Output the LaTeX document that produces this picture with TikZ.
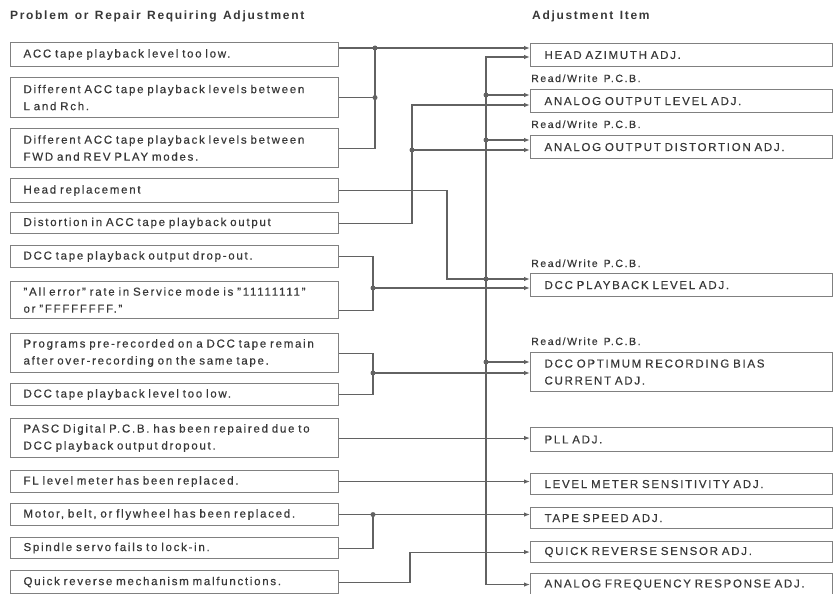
\documentclass[tikz,border=0pt]{standalone}
\usepackage{fontspec}
\setmainfont{Liberation Sans}[LetterSpace=15, FakeBold=0.5]
\newfontfamily\hdrfont{Liberation Sans}[LetterSpace=14]
\newcommand\myBodyFont{\fontsize{11.5}{17}\selectfont\spaceskip 6.5pt plus 1pt minus 0.5pt\relax}
\newcommand\myPcbFont{\fontsize{10.5}{12}\selectfont\spaceskip 6pt\relax}
\newcommand\myHdrFont{\hdrfont\bfseries\fontsize{12}{14}\selectfont\spaceskip 6.5pt\relax}
\usetikzlibrary{arrows.meta,calc}
\definecolor{ln}{HTML}{626262}
\definecolor{bx}{HTML}{808080}
\definecolor{tx}{HTML}{383838}
\begin{document}
\begin{tikzpicture}[x=1pt,y=-1pt,
  box/.style={draw=bx, line width=1.1pt, text=tx, align=left, inner ysep=0pt, anchor=north west, font=\myBodyFont},
  lbox/.style={box, text width=302pt, inner xsep=13pt},
  rbox/.style={box, text width=274pt, inner xsep=14pt},
  conn/.style={draw=ln, line width=1.1pt},
  tip/.tip={Latex[length=6pt,width=4.5pt]},
  arr/.style={conn, -tip},
  dot/.style={circle, fill=ln, inner sep=0pt, minimum size=5pt},
  pcb/.style={text=tx, anchor=base west, inner sep=0pt, font=\myPcbFont},
  hdr/.style={text=tx, anchor=base west, inner sep=0pt, font=\myHdrFont}]
\useasboundingbox (0,0) rectangle (833,594);

% headers
\node[hdr] (h1) at (10,20) {Problem or Repair Requiring Adjustment};
\node[hdr] (h2) at (532,20) {Adjustment Item};

% left boxes
\node[lbox, minimum height=24pt] (a1) at (10,42) {ACC tape playback level too low.};
\node[lbox, minimum height=40pt] (a2) at (10,77) {Different ACC tape playback levels between\\L and Rch.};
\node[lbox, minimum height=39pt] (a3) at (10,128) {Different ACC tape playback levels between\\FWD and REV PLAY modes.};
\node[lbox, minimum height=24pt] (a4) at (10,178) {Head replacement};
\node[lbox, minimum height=21pt] (a5) at (10,212) {Distortion in ACC tape playback output};
\node[lbox, minimum height=22pt] (a6) at (10,245) {DCC tape playback output drop-out.};
\node[lbox, minimum height=37pt] (a7) at (10,281) {"All error" rate in Service mode is "11111111"\\or "FFFFFFFF."};
\node[lbox, minimum height=39pt] (a8) at (10,333) {Programs pre-recorded on a DCC tape remain\\after over-recording on the same tape.};
\node[lbox, minimum height=22pt] (a9) at (10,383) {DCC tape playback level too low.};
\node[lbox, minimum height=39pt] (a10) at (10,418) {PASC Digital P.C.B. has been repaired due to\\DCC playback output dropout.};
\node[lbox, minimum height=22pt] (a11) at (10,470) {FL level meter has been replaced.};
\node[lbox, minimum height=22pt] (a12) at (10,503) {Motor, belt, or flywheel has been replaced.};
\node[lbox, minimum height=21pt] (a13) at (10,537) {Spindle servo fails to lock-in.};
\node[lbox, minimum height=23pt] (a14) at (10,570) {Quick reverse mechanism malfunctions.};

% right boxes
\node[rbox, minimum height=23pt] (haz) at (530,43) {HEAD AZIMUTH ADJ.};
\node[rbox, minimum height=23pt] (aol) at (530,89) {ANALOG OUTPUT LEVEL ADJ.};
\node[rbox, minimum height=23pt] (aod) at (530,135) {ANALOG OUTPUT DISTORTION ADJ.};
\node[rbox, minimum height=23pt] (dpb) at (530,273) {DCC PLAYBACK LEVEL ADJ.};
\node[rbox, minimum height=39pt] (dopt) at (530,352) {DCC OPTIMUM RECORDING BIAS\\CURRENT ADJ.};
\node[rbox, minimum height=24pt] (pll) at (530,427) {PLL ADJ.};
\node[rbox, minimum height=21pt] (lms) at (530,473) {LEVEL METER SENSITIVITY ADJ.};
\node[rbox, minimum height=21pt] (ts) at (530,507) {TAPE SPEED ADJ.};
\node[rbox, minimum height=21pt] (qrs) at (530,541) {QUICK REVERSE SENSOR ADJ.};
\node[rbox, minimum height=22pt] (afr) at (530,573) {ANALOG FREQUENCY RESPONSE ADJ.};

% Read/Write labels
\node[pcb] (p1) at ($(aol.north west)+(1,-7)$) {Read/Write P.C.B.};
\node[pcb] (p2) at ($(aod.north west)+(1,-7)$) {Read/Write P.C.B.};
\node[pcb] (p3) at ($(dpb.north west)+(1,-6)$) {Read/Write P.C.B.};
\node[pcb] (p4) at ($(dopt.north west)+(1,-7)$) {Read/Write P.C.B.};

% arrow target points
\coordinate (haz1) at ($(haz.north west)+(0,5)$);
\coordinate (haz2) at ($(haz.north west)+(0,14)$);
\coordinate (aol1) at ($(aol.north west)+(0,6)$);
\coordinate (aol2) at ($(aol.north west)+(0,16)$);
\coordinate (aod1) at ($(aod.north west)+(0,5)$);
\coordinate (aod2) at ($(aod.north west)+(0,15)$);
\coordinate (dpb1) at ($(dpb.north west)+(0,6)$);
\coordinate (dpb2) at ($(dpb.north west)+(0,15)$);
\coordinate (dopt1) at ($(dopt.north west)+(0,10)$);
\coordinate (dopt2) at ($(dopt.north west)+(0,21)$);
\coordinate (a7p) at ($(a7.south east)+(0,-9)$);

% bus columns
\coordinate (xA) at (375,0);
\coordinate (xB) at (412,0);
\coordinate (xC) at (447,0);
\coordinate (xD) at (486,0);
\coordinate (xE) at (373,0);
\coordinate (xF) at (410,0);

% ACC group
\draw[arr] (a1.east |- haz1) -- (haz1);
\draw[conn] (a2.east) -- (a2.east -| xA);
\draw[conn] (a3.east) -| (xA |- haz1);
\node[dot] (d1) at (xA |- haz1) {};
\node[dot] (d2) at (a2.east -| xA) {};

% head replacement and main bus
\draw[arr] (a4.east) -| (xC |- dpb1) -- (dpb1);
\draw[conn, tip-tip] (haz2) -| (xD |- afr.west) -- (afr.west);
\draw[arr] (xD |- aol1) -- (aol1);
\draw[arr] (xD |- aod1) -- (aod1);
\draw[arr] (xD |- dopt1) -- (dopt1);
\node[dot] (d3) at (xD |- aol1) {};
\node[dot] (d4) at (xD |- aod1) {};
\node[dot] (d5) at (xD |- dpb1) {};
\node[dot] (d6) at (xD |- dopt1) {};

% distortion
\draw[arr] (a5.east) -| (xB |- aol2) -- (aol2);
\draw[arr] (xB |- aod2) -- (aod2);
\node[dot] (d7) at (xB |- aod2) {};

% DCC drop-out / all error
\draw[arr] (a6.east) -| (xE |- dpb2) -- (dpb2);
\draw[conn] (a7p) -| (xE |- dpb2);
\node[dot] (d8) at (xE |- dpb2) {};

% programs / DCC level low
\draw[arr] (a8.east) -| (xE |- dopt2) -- (dopt2);
\draw[conn] (a9.east) -| (xE |- dopt2);
\node[dot] (d9) at (xE |- dopt2) {};

% single connections
\draw[arr] (a10.east) -- (a10.east -| pll.west);
\draw[arr] (a11.east) -- (a11.east -| lms.west);
\draw[arr] (a12.east) -- (a12.east -| ts.west);
\draw[conn] (a13.east) -| (xE |- a12.east);
\node[dot] (d10) at (xE |- a12.east) {};
\draw[arr] (a14.east) -| (xF |- qrs.west) -- (qrs.west);
\end{tikzpicture}
\end{document}
